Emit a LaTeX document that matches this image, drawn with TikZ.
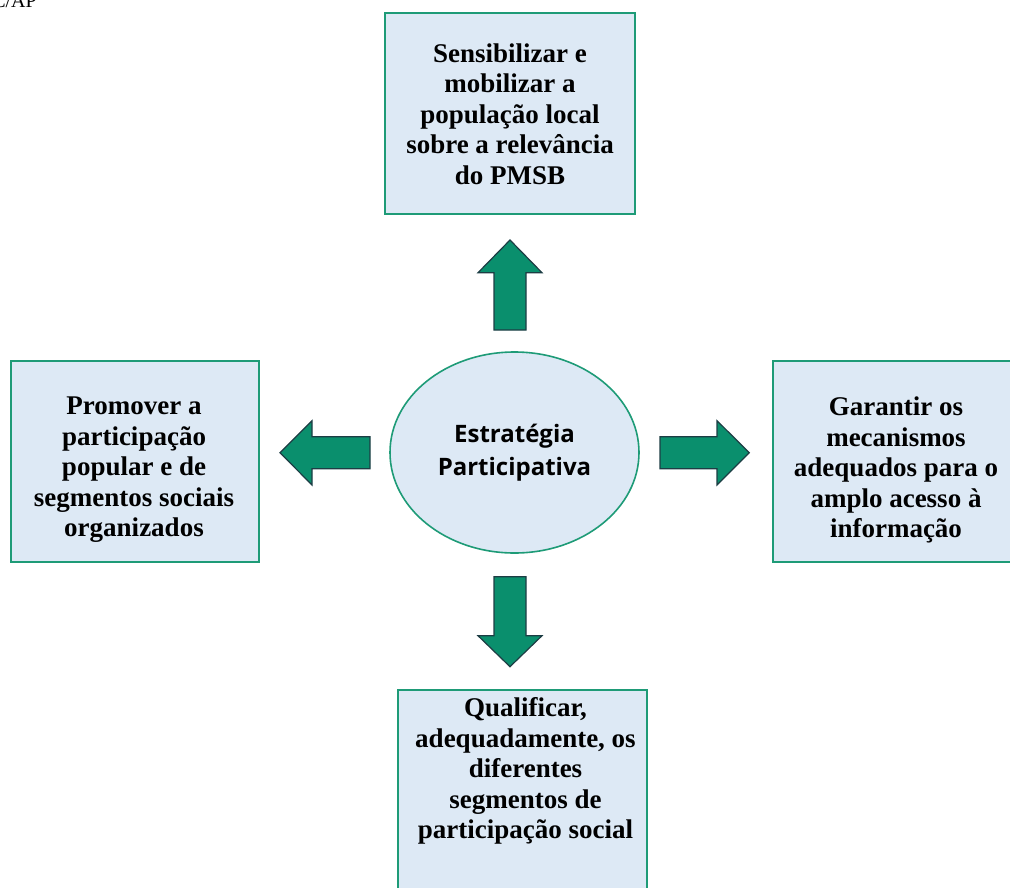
\documentclass[tikz,border=0pt]{standalone}
\usepackage{fontspec}
\setmainfont{Liberation Serif}
\newfontfamily\hubfont{Open Sans}
\usetikzlibrary{shapes.geometric}
\definecolor{boxfill}{HTML}{DDE9F5}
\definecolor{boxline}{HTML}{1E9B77}
\definecolor{arrfill}{HTML}{0A8F6D}
\definecolor{arrline}{HTML}{1D3D44}
\begin{document}
\begin{tikzpicture}[x=1pt,y=-1pt,
  goalbox/.style={draw=boxline, line width=2pt, fill=boxfill, inner sep=0pt},
  goaltext/.style={align=center, font=\bfseries\fontsize{27}{30.5}\selectfont, inner sep=0pt},
  blockarrow/.style={draw=arrline, fill=arrfill, line width=1.2pt, line join=miter},
  hubstyle/.style={ellipse, draw=boxline, fill=boxfill, line width=1.6pt, inner sep=0pt,
    minimum width=249pt, minimum height=201pt, align=center,
    font=\hubfont\bfseries\fontsize{24}{33}\selectfont}
]
\useasboundingbox (0,0) rectangle (1010,887);
% cut-off source tag
\node[anchor=base east, font=\fontsize{20}{24}\selectfont, inner sep=0pt] (src) at (37,7) {C/AP};
% boxes
\node[goalbox, minimum width=250pt, minimum height=201pt] (top) at (510,113) {};
\node[goalbox, minimum width=248pt, minimum height=201pt] (left) at (135,461.5) {};
\node[goalbox, minimum width=246pt, minimum height=201pt] (right) at (896,461.5) {};
\node[goalbox, minimum width=249pt, minimum height=205pt] (bottom) at (522.5,792.5) {};
% box texts
\node[goaltext] (topt) at (510,114) {Sensibilizar e\\mobilizar a\\população local\\sobre a relevância\\do PMSB};
\node[goaltext] (leftt) at (134,470) {Promover a\\participação\\popular e de\\segmentos sociais\\organizados};
\node[goaltext] (rightt) at (896,470) {Garantir os\\mecanismos\\adequados para o\\amplo acesso à\\informação};
\node[goaltext] (bottomt) at (525.5,771) {Qualificar,\\adequadamente, os\\diferentes\\segmentos de\\participação social};
% hub
\node[hubstyle] (hub) at (514.5,452.5) {Estratégia\\Participativa};
% block arrows
\draw[blockarrow] (510,240) -- (542,272.7) -- (526,272.7) -- (526,330) -- (494,330) -- (494,272.7) -- (478,272.7) -- cycle;
\draw[blockarrow] (280,452.7) -- (312,420.7) -- (312,436.7) -- (370,436.7) -- (370,468.7) -- (312,468.7) -- (312,485) -- cycle;
\draw[blockarrow] (749.3,452.7) -- (717,420.7) -- (717,436.7) -- (660,436.7) -- (660,468.7) -- (717,468.7) -- (717,485) -- cycle;
\draw[blockarrow] (510,666.7) -- (542,635.7) -- (526,635.7) -- (526,576.7) -- (494,576.7) -- (494,635.7) -- (478,635.7) -- cycle;
\end{tikzpicture}
\end{document}
